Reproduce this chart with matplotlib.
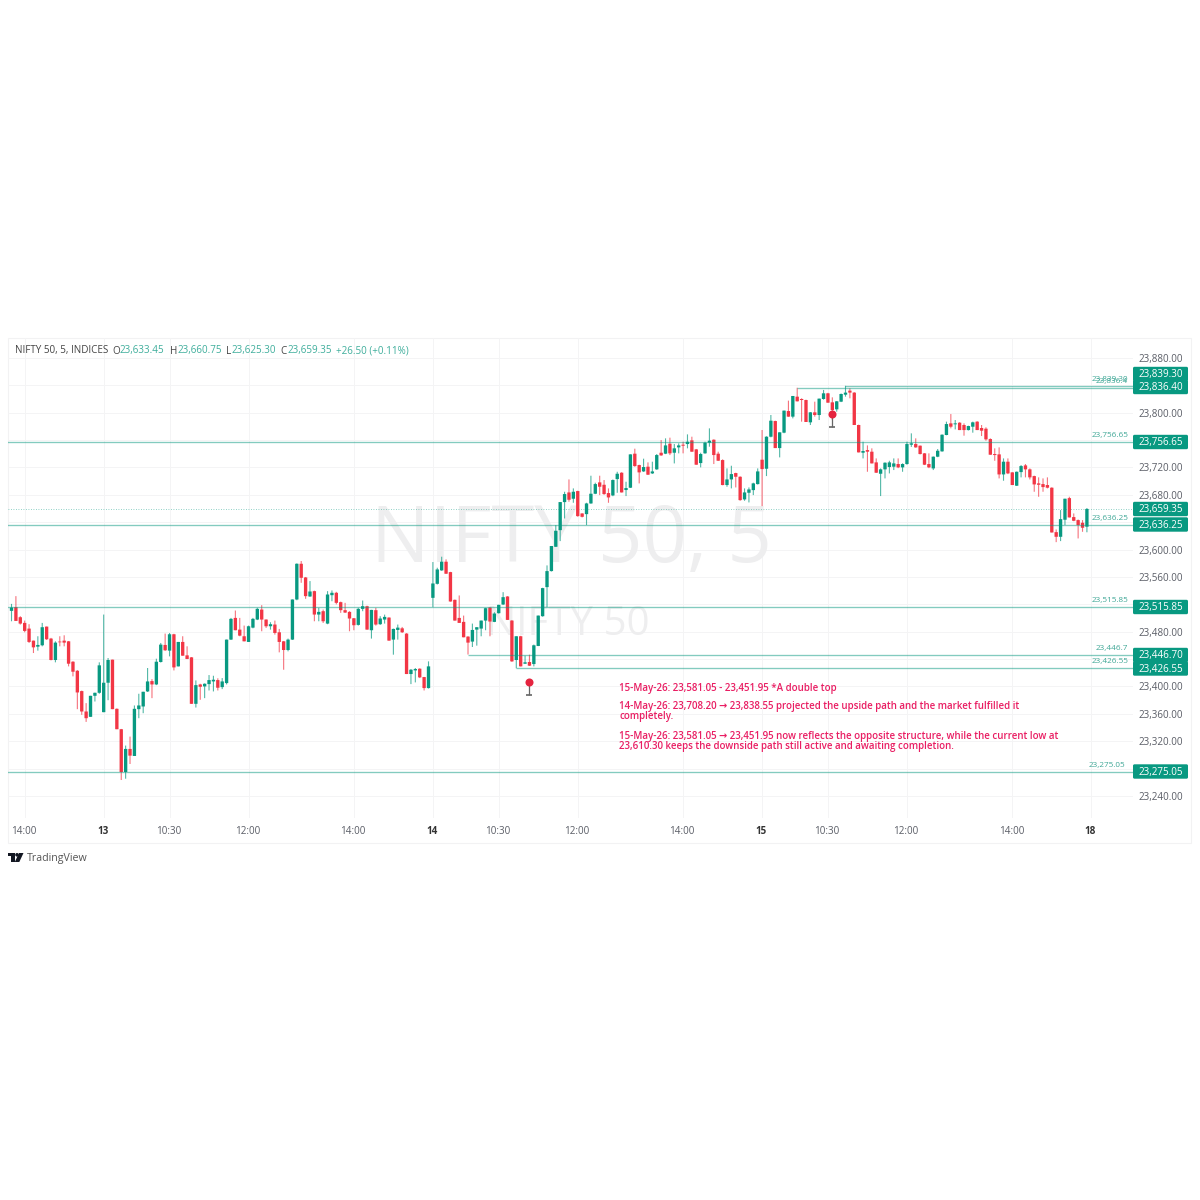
#!/usr/bin/env python3
# -*- coding: utf-8 -*-
"""NIFTY 50 5-minute chart, 12 May 13:45 to 15 May 15:25, with drawn levels and a note."""
import matplotlib
matplotlib.use('Agg')
import matplotlib.pyplot as plt
from matplotlib.patches import FancyBboxPatch, Polygon, Circle, Rectangle

plt.rcParams['font.family'] = ['Open Sans', 'DejaVu Sans']

# ── candles, one value per 5-minute bar ──────────────────────
opens = [
    23510.5, 23515.9, 23501.2, 23492.9, 23484.6, 23467.0, 23458.2, 23460.2, 23487.5, 23470.0,
    23438.7, 23465.6, 23467.0, 23466.0, 23436.2, 23423.0, 23393.3, 23363.5, 23355.7, 23386.4,
    23390.8, 23362.5, 23405.5, 23439.2, 23367.4, 23337.6, 23275.1, 23308.8, 23298.5, 23366.9,
    23370.8, 23392.8, 23407.9, 23403.0, 23435.8, 23460.7, 23452.4, 23476.3, 23429.4, 23465.1,
    23445.5, 23442.6, 23374.7, 23403.0, 23400.1, 23403.5, 23407.4, 23409.4, 23399.1, 23405.0,
    23468.5, 23500.2, 23483.1, 23473.4, 23465.1, 23486.0, 23497.8, 23512.4, 23497.8, 23488.0,
    23490.5, 23479.2, 23466.0, 23453.3, 23468.5, 23527.1, 23579.3, 23559.3, 23531.5, 23539.3,
    23505.1, 23510.0, 23491.9, 23533.4, 23536.9, 23523.2, 23511.5, 23509.0, 23499.7, 23490.0,
    23513.4, 23517.3, 23482.2, 23511.5, 23491.0, 23497.8, 23500.7, 23468.5, 23482.6, 23485.0,
    23477.3, 23418.2, 23423.5, 23426.0, 23413.8, 23397.7, 23529.5, 23550.0, 23569.6, 23582.3,
    23567.1, 23526.6, 23500.2, 23494.4, 23472.9, 23465.6, 23483.1, 23484.6, 23496.3, 23515.4,
    23494.4, 23507.1, 23519.8, 23531.5, 23496.3, 23438.7, 23473.4, 23433.3, 23435.8, 23432.8,
    23459.2, 23502.7, 23545.2, 23568.6, 23604.1, 23628.4, 23669.4, 23683.5, 23674.3, 23685.5,
    23652.8, 23651.8, 23667.4, 23681.6, 23698.2, 23694.7, 23682.6, 23679.1, 23703.0, 23712.3,
    23687.0, 23690.4, 23740.1, 23723.5, 23714.2, 23721.1, 23711.3, 23717.2, 23741.5, 23740.1,
    23754.7, 23741.5, 23749.3, 23753.2, 23754.2, 23759.6, 23746.4, 23726.4, 23740.6, 23756.1,
    23760.5, 23740.1, 23730.8, 23694.3, 23702.5, 23711.8, 23706.4, 23673.3, 23683.0, 23686.9,
    23695.7, 23731.3, 23718.1, 23764.9, 23787.8, 23748.3, 23770.8, 23802.4, 23794.2, 23823.4,
    23820.0, 23818.5, 23785.9, 23800.5, 23796.6, 23820.0, 23828.3, 23815.1, 23804.9, 23816.1,
    23826.3, 23832.2, 23829.3, 23782.0, 23741.5, 23745.4, 23743.0, 23727.4, 23710.8, 23717.2,
    23720.6, 23721.1, 23725.0, 23720.1, 23725.0, 23753.2, 23754.2, 23751.8, 23740.6, 23725.0,
    23718.6, 23735.7, 23743.5, 23767.4, 23784.4, 23783.0, 23785.4, 23782.0, 23774.6, 23779.5,
    23786.9, 23777.6, 23776.6, 23761.5, 23739.6, 23739.1, 23709.8, 23728.4, 23712.8, 23693.3,
    23713.2, 23723.0, 23717.2, 23707.4, 23696.7, 23695.7, 23694.3, 23690.4, 23625.5, 23618.7,
    23643.6, 23675.2, 23647.5, 23643.1, 23639.2, 23633.45,
]
highs = [
    23520.7, 23532.0, 23502.7, 23496.3, 23491.0, 23467.0, 23473.4, 23492.9, 23487.5, 23471.0,
    23466.0, 23473.4, 23474.8, 23466.5, 23437.0, 23424.0, 23394.0, 23375.7, 23386.4, 23391.0,
    23435.3, 23505.1, 23441.6, 23439.2, 23368.0, 23338.0, 23313.7, 23326.8, 23372.3, 23389.4,
    23392.3, 23427.0, 23410.8, 23440.6, 23463.6, 23477.3, 23478.2, 23477.0, 23465.1, 23473.4,
    23458.7, 23443.0, 23408.9, 23404.0, 23404.5, 23416.7, 23415.7, 23412.0, 23412.3, 23468.5,
    23500.2, 23511.0, 23500.2, 23489.0, 23489.0, 23500.2, 23514.9, 23518.8, 23498.0, 23493.9,
    23496.3, 23484.1, 23466.5, 23470.0, 23527.1, 23579.8, 23583.3, 23560.0, 23554.0, 23540.0,
    23514.9, 23512.4, 23539.3, 23540.3, 23538.3, 23524.0, 23522.2, 23510.0, 23500.0, 23514.9,
    23525.6, 23518.0, 23512.0, 23514.9, 23502.7, 23505.0, 23501.0, 23484.5, 23490.5, 23487.0,
    23478.0, 23425.5, 23427.0, 23426.5, 23414.0, 23436.7, 23581.8, 23573.5, 23589.6, 23585.7,
    23567.5, 23527.0, 23533.0, 23503.6, 23473.5, 23491.9, 23486.5, 23496.3, 23514.9, 23516.0,
    23508.5, 23519.3, 23537.8, 23532.0, 23497.0, 23473.4, 23474.0, 23445.0, 23446.5, 23461.2,
    23503.6, 23544.2, 23576.9, 23605.3, 23635.8, 23669.4, 23684.5, 23702.5, 23689.4, 23686.0,
    23653.0, 23668.4, 23707.9, 23697.7, 23707.9, 23701.6, 23689.4, 23702.5, 23713.7, 23713.0,
    23699.1, 23739.1, 23747.4, 23724.0, 23732.8, 23727.4, 23728.4, 23739.6, 23760.0, 23762.5,
    23763.5, 23754.2, 23755.2, 23757.6, 23768.3, 23764.9, 23747.0, 23741.5, 23757.6, 23777.1,
    23761.0, 23743.0, 23731.8, 23718.6, 23722.5, 23712.3, 23707.0, 23689.4, 23690.8, 23697.7,
    23718.6, 23774.7, 23765.5, 23796.6, 23788.3, 23771.3, 23803.0, 23817.6, 23824.4, 23836.4,
    23821.0, 23819.0, 23801.0, 23816.1, 23820.5, 23833.2, 23829.0, 23822.4, 23817.0, 23828.0,
    23839.3, 23835.6, 23830.0, 23782.5, 23757.6, 23752.2, 23747.9, 23733.2, 23718.6, 23727.4,
    23729.8, 23733.2, 23733.2, 23726.0, 23757.6, 23769.8, 23762.5, 23752.0, 23741.0, 23740.6,
    23736.0, 23746.9, 23768.3, 23786.9, 23798.0, 23789.3, 23786.0, 23784.4, 23781.0, 23786.9,
    23787.5, 23782.0, 23778.6, 23762.5, 23747.9, 23749.3, 23733.2, 23733.2, 23713.0, 23714.0,
    23723.5, 23725.0, 23718.6, 23708.0, 23705.5, 23704.0, 23705.5, 23691.0, 23629.4, 23657.7,
    23674.3, 23677.2, 23652.8, 23644.0, 23643.1, 23660.75,
]
lows = [
    23495.3, 23495.8, 23490.5, 23479.2, 23463.6, 23448.9, 23452.4, 23458.7, 23468.0, 23438.2,
    23435.3, 23458.7, 23458.7, 23429.4, 23414.8, 23366.9, 23358.6, 23348.3, 23355.7, 23378.1,
    23389.4, 23362.5, 23380.0, 23366.9, 23337.6, 23263.4, 23265.3, 23286.8, 23298.5, 23353.7,
    23361.0, 23392.0, 23383.0, 23402.0, 23435.0, 23452.0, 23444.0, 23423.5, 23429.4, 23445.0,
    23440.0, 23374.7, 23369.3, 23380.6, 23383.0, 23394.2, 23392.8, 23394.2, 23396.2, 23403.0,
    23468.0, 23482.2, 23473.4, 23466.0, 23465.0, 23485.0, 23497.0, 23480.7, 23485.6, 23483.1,
    23475.8, 23449.9, 23424.5, 23451.4, 23468.0, 23526.0, 23551.5, 23528.1, 23531.0, 23495.3,
    23495.3, 23492.9, 23491.0, 23524.6, 23520.0, 23507.6, 23507.5, 23480.7, 23482.2, 23489.0,
    23510.0, 23483.0, 23470.0, 23489.0, 23490.0, 23491.9, 23467.0, 23446.5, 23468.5, 23478.2,
    23418.2, 23403.5, 23406.0, 23412.3, 23394.2, 23397.0, 23515.9, 23549.0, 23569.0, 23564.7,
    23524.0, 23496.3, 23492.9, 23471.9, 23446.7, 23457.7, 23459.7, 23473.4, 23482.2, 23473.4,
    23494.0, 23506.5, 23519.0, 23497.3, 23436.0, 23426.6, 23429.4, 23433.0, 23430.0, 23429.4,
    23459.0, 23502.0, 23515.9, 23568.0, 23604.0, 23612.4, 23645.5, 23669.9, 23668.4, 23648.0,
    23647.0, 23635.8, 23667.0, 23681.0, 23679.6, 23680.0, 23668.4, 23678.0, 23683.0, 23683.5,
    23678.2, 23690.0, 23721.0, 23696.7, 23713.5, 23709.0, 23710.5, 23716.5, 23737.0, 23739.5,
    23738.1, 23725.9, 23740.6, 23740.6, 23747.9, 23743.0, 23724.0, 23720.1, 23740.0, 23750.3,
    23725.0, 23729.5, 23694.0, 23691.8, 23689.4, 23690.8, 23671.3, 23671.3, 23668.9, 23679.6,
    23695.0, 23663.5, 23707.4, 23764.0, 23748.3, 23734.7, 23770.0, 23794.0, 23791.7, 23816.5,
    23786.9, 23786.4, 23782.0, 23794.2, 23789.3, 23819.0, 23814.6, 23789.3, 23801.5, 23815.5,
    23823.4, 23821.0, 23782.0, 23742.0, 23733.2, 23713.7, 23725.9, 23712.0, 23678.2, 23704.0,
    23711.3, 23716.2, 23719.0, 23713.7, 23724.0, 23750.0, 23748.8, 23739.0, 23723.5, 23719.0,
    23716.2, 23735.0, 23743.0, 23767.0, 23777.1, 23775.6, 23774.6, 23766.4, 23774.0, 23770.8,
    23774.6, 23765.9, 23759.1, 23738.6, 23729.8, 23704.0, 23700.6, 23710.3, 23694.3, 23693.0,
    23705.5, 23705.5, 23702.5, 23684.5, 23677.2, 23684.5, 23689.4, 23625.0, 23610.9, 23612.4,
    23635.8, 23647.0, 23641.5, 23616.3, 23626.0, 23625.30,
]
closes = [
    23515.4, 23495.8, 23491.9, 23481.2, 23465.1, 23457.2, 23460.7, 23486.6, 23469.0, 23438.7,
    23464.1, 23464.6, 23464.1, 23433.3, 23421.6, 23391.3, 23363.5, 23353.7, 23386.4, 23390.8,
    23430.9, 23405.5, 23438.7, 23366.9, 23337.6, 23275.1, 23308.8, 23299.0, 23367.4, 23372.3,
    23392.3, 23407.4, 23403.0, 23436.2, 23461.2, 23452.9, 23476.3, 23427.9, 23465.1, 23445.0,
    23440.2, 23374.7, 23402.0, 23399.6, 23404.0, 23409.4, 23409.9, 23398.2, 23407.4, 23468.5,
    23498.8, 23482.2, 23474.3, 23466.0, 23488.0, 23498.8, 23513.4, 23497.8, 23488.0, 23491.0,
    23478.2, 23465.1, 23453.3, 23468.5, 23527.1, 23579.3, 23558.8, 23532.0, 23538.8, 23505.1,
    23509.0, 23495.3, 23534.4, 23536.9, 23522.2, 23511.5, 23508.0, 23499.3, 23489.5, 23513.4,
    23517.3, 23483.1, 23511.9, 23490.5, 23499.3, 23501.7, 23467.0, 23484.1, 23486.0, 23479.2,
    23418.2, 23424.5, 23425.5, 23413.3, 23397.7, 23429.4, 23550.5, 23571.0, 23582.3, 23564.7,
    23524.2, 23496.3, 23492.9, 23471.9, 23464.1, 23482.6, 23486.6, 23496.3, 23514.4, 23494.9,
    23506.6, 23519.3, 23530.5, 23497.3, 23436.7, 23473.4, 23429.4, 23435.3, 23430.4, 23460.2,
    23503.6, 23543.7, 23568.6, 23605.2, 23627.5, 23669.4, 23681.1, 23672.8, 23684.5, 23648.9,
    23647.9, 23667.4, 23681.6, 23695.7, 23691.8, 23681.1, 23676.2, 23701.6, 23710.8, 23683.5,
    23689.9, 23739.1, 23722.0, 23712.8, 23720.6, 23709.4, 23714.2, 23738.1, 23737.6, 23752.2,
    23740.6, 23747.9, 23752.2, 23751.8, 23757.6, 23743.0, 23724.0, 23739.6, 23756.1, 23759.1,
    23738.1, 23729.8, 23694.3, 23702.5, 23710.3, 23706.4, 23672.3, 23683.5, 23687.9, 23696.7,
    23714.2, 23717.6, 23764.9, 23788.3, 23748.3, 23771.3, 23803.0, 23794.2, 23824.4, 23816.6,
    23818.5, 23786.4, 23800.5, 23796.6, 23820.5, 23828.3, 23814.6, 23803.9, 23816.6, 23827.3,
    23829.3, 23829.3, 23782.0, 23742.0, 23744.0, 23743.0, 23725.9, 23712.3, 23717.2, 23726.9,
    23727.4, 23725.9, 23720.1, 23725.0, 23754.2, 23755.2, 23749.3, 23739.6, 23724.0, 23720.1,
    23735.7, 23744.4, 23767.8, 23783.4, 23779.5, 23784.4, 23774.6, 23774.6, 23780.5, 23785.9,
    23774.6, 23773.7, 23761.0, 23738.6, 23738.1, 23709.8, 23728.4, 23711.3, 23694.3, 23713.7,
    23722.0, 23717.2, 23705.5, 23695.2, 23694.7, 23691.3, 23690.4, 23625.0, 23618.7, 23644.5,
    23674.3, 23647.0, 23642.1, 23635.8, 23631.9, 23659.35,
]

# ── axes labels ──────────────────────────────────────────────
price_ticks = [23240, 23280, 23320, 23360, 23400, 23440, 23480, 23520, 23560,
               23600, 23640, 23680, 23720, 23760, 23800, 23840, 23880]
time_ticks = [3, 21, 36, 54, 78, 96, 111, 129, 153, 171, 186, 204, 228, 246]
time_labels = ['14:00', '13', '10:30', '12:00', '14:00', '14', '10:30', '12:00',
               '14:00', '15', '10:30', '12:00', '14:00', '18']
day_labels = ['13', '14', '15', '18']

# ── drawn levels: price, first bar of the line, label shown ───
level_prices = [23839.30, 23836.40, 23756.65, 23636.25, 23515.85, 23446.70, 23426.55, 23275.05]
level_starts = [190, 179, -1, -1, -1, 104, 115, -1]
level_texts = ['23,839.30', '23,836.4', '23,756.65', '23,636.25', '23,515.85',
               '23,446.7', '23,426.55', '23,275.05']
last_price = 23659.35

# price tags on the scale (text, pixel centre after the scale spread them)
tag_texts = ['23,839.30', '23,836.40', '23,756.65', '23,659.35', '23,636.25',
             '23,515.85', '23,446.70', '23,426.55', '23,275.05']
tag_rows = [374, 387, 442, 509, 524.5, 607, 655, 668.5, 771.5]

# ── pin notes ─────────────────────────────────────────────────
pin_bars = [118, 187]
pin_heads = [23406.5, 23797.5]
pin_feet = [23387.5, 23779.0]

note_lines = [
    '15-May-26: 23,581.05 - 23,451.95 *A double top',
    '14-May-26: 23,708.20 → 23,838.55 projected the upside path and the market fulfilled it',
    'completely.',
    '15-May-26: 23,581.05 → 23,451.95 now reflects the opposite structure, while the current low at',
    '23,610.30 keeps the downside path still active and awaiting completion.',
]
note_rows = [688, 707, 717, 736, 746]

header_parts = [
    (15, 'NIFTY 50, 5, INDICES', '#444444'), (112, 'O', '#444444'), (120, '23,633.45', '#3fae9c'),
    (170, 'H', '#444444'), (177, '23,660.75', '#3fae9c'), (226, 'L', '#444444'),
    (232, '23,625.30', '#3fae9c'), (280, 'C', '#444444'), (287, '23,659.35', '#3fae9c'),
    (336, '+26.50 (+0.11%)', '#3fae9c'),
]

GREEN = '#089981'
RED = '#f23645'
PINK = '#e91e63'
GRID = '#f4f4f5'
TICK_TXT = '#5a5d66'
FS = 7.1

W = H = 1200.0


def fx(x):
    return x / W


def fy(y):
    return 1 - y / H


fig = plt.figure(figsize=(12, 12), dpi=100, facecolor='white')

# 畫面框 / chart frame
fig.add_artist(Rectangle((fx(8), fy(843)), (1191 - 8) / W, (843 - 338) / H,
                         transform=fig.transFigure, fc='white', ec='#f2f2f3', lw=0.8, zorder=-1))

ax = fig.add_axes([fx(8), fy(818), (1133 - 8) / W, (818 - 338) / H])
ax.patch.set_alpha(0)
ax.set_xlim(-0.8, 255.5)
ax.set_ylim(23207.9, 23909.1)
for s in ax.spines.values():
    s.set_visible(False)

ax.set_yticks(price_ticks)
ax.set_yticklabels([f'{p:,.2f}' for p in price_ticks], fontsize=FS, color=TICK_TXT)
ax.yaxis.tick_right()
ax.tick_params(axis='y', length=0, pad=5.5 * 0.72)
ax.set_xticks(time_ticks)
ax.set_xticklabels([])
ax.tick_params(axis='x', length=0)
ax.grid(True, color=GRID, lw=0.7)
ax.set_axisbelow(True)

# time labels sit in the strip under the pane
for t, lab in zip(time_ticks, time_labels):
    bold = lab in day_labels
    ax.annotate(lab, xy=(t, 0), xycoords=('data', 'axes fraction'), xytext=(-1 * 0.72, -13.5 * 0.72),
                textcoords='offset points', ha='center', va='center', fontsize=FS,
                color='#333333' if bold else TICK_TXT, fontweight='bold' if bold else 'normal',
                annotation_clip=False)

# watermark, under the candles
ax.text(fx(571), fy(541), 'NIFTY 50, 5', transform=fig.transFigure, fontsize=56, color='#eeeeef',
        ha='center', va='center', zorder=1)
ax.text(fx(568), fy(625), 'NIFTY 50', transform=fig.transFigure, fontsize=29, color='#eeeeef',
        ha='center', va='center', zorder=1)

# candles
for i, (o, h, l, c) in enumerate(zip(opens, highs, lows, closes)):
    col = GREEN if c >= o else RED
    ax.vlines(i, l, h, color=col, lw=0.8, alpha=0.7, zorder=3).set_snap(False)
    for r in ax.bar(i, max(abs(c - o), 0.9), bottom=min(o, c), width=0.76, color=col, lw=0, zorder=3.2):
        r.set_snap(False)

# 水平線 / drawn levels
for price, start, txt in zip(level_prices, level_starts, level_texts):
    ax.hlines(price, start, ax.get_xlim()[1], color=GREEN, lw=0.95, alpha=0.5, zorder=4)
    xr = 1125.7 if txt == '23,275.05' else 1128
    fig.text(fx(xr), fy(442.3 + (23756.65 - price) * 0.6846 - 6.3), txt, fontsize=5.85,
             color='#3fa796', ha='right', va='center', zorder=4)
ax.hlines(last_price, -0.8, ax.get_xlim()[1], color=GREEN, lw=0.6, ls=(0, (1, 2)), alpha=0.6, zorder=2.8)

# pins
for b, head, foot in zip(pin_bars, pin_heads, pin_feet):
    ax.vlines(b, foot, head, color='#666666', lw=0.9, zorder=5)
    ax.plot([b], [foot], marker='_', ms=4, mew=1.2, color='#666666', zorder=5)
    ax.plot([b], [head], marker='o', ms=5.8, mew=0, color='#e5243f', zorder=5.1)

# scale tags go over the tick labels they hide
for txt, row in zip(tag_texts, tag_rows):
    fig.add_artist(FancyBboxPatch((fx(1134), fy(row + 6.2)), 53 / W, 12.4 / H,
                                  boxstyle=f'round,pad={1 / W},rounding_size={1.5 / W}',
                                  transform=fig.transFigure, fc=GREEN, ec='none', zorder=6))
    fig.text(fx(1161), fy(row + 0.6), txt, fontsize=FS, color='white', ha='center', va='center', zorder=7)

# header
for x, txt, col in header_parts:
    fig.text(fx(x), fy(351), txt, fontsize=FS, color=col, ha='left', va='center', zorder=7)

# note
for txt, row in zip(note_lines, note_rows):
    fig.text(fx(619), fy(row), txt, fontsize=7.05, color=PINK, fontweight='semibold',
             ha='left', va='center', zorder=7)

# logo + wordmark
fig.add_artist(Polygon([(fx(8), fy(853)), (fx(14.8), fy(853)), (fx(14.8), fy(862)), (fx(11.3), fy(862)),
                        (fx(11.3), fy(856.3)), (fx(8), fy(856.3))], closed=True,
                       transform=fig.transFigure, fc='#131722', ec='none'))
fig.add_artist(Polygon([(fx(19), fy(853)), (fx(23.5), fy(853)), (fx(19.3), fy(862)), (fx(14.8), fy(862))],
                       closed=True, transform=fig.transFigure, fc='#131722', ec='none'))
fig.add_artist(Circle((fx(17), fy(854.8)), 1.8 / W, transform=fig.transFigure, fc='#131722', ec='none'))
fig.text(fx(27), fy(858.2), 'TradingView', fontsize=7.7, color='#555555', ha='left', va='center')

fig.savefig('out.png', dpi=100, facecolor='white')
